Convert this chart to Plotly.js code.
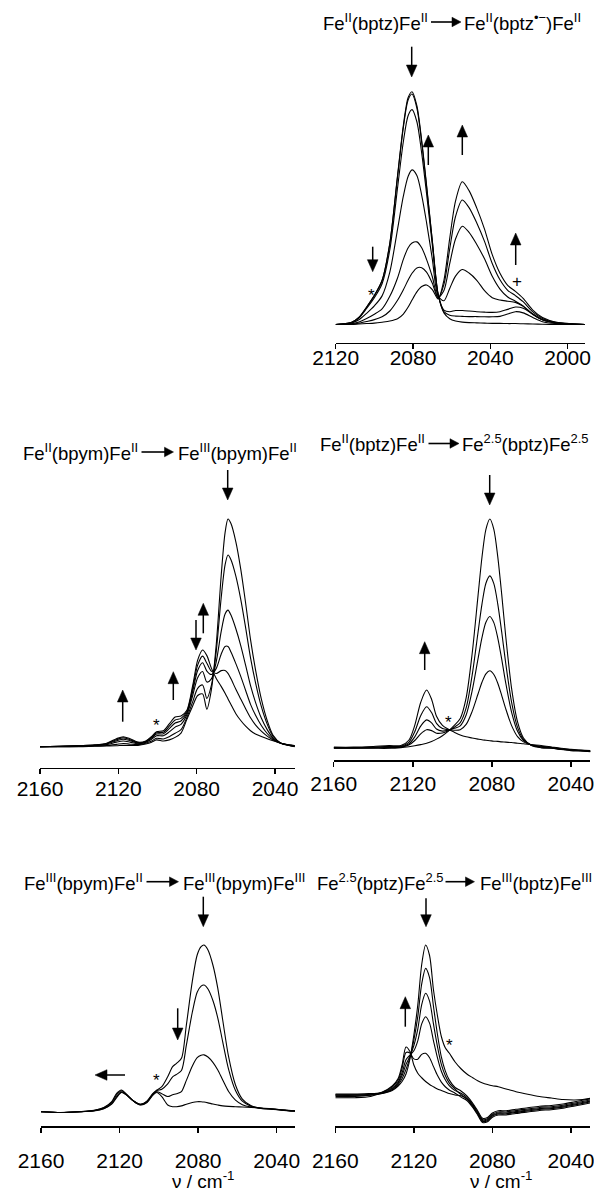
<!DOCTYPE html>
<html>
<head>
<meta charset="utf-8">
<script src="https://cdn.plot.ly/plotly-3.0.1.min.js"></script>
<style>
html,body{margin:0;padding:0;background:#fff;}
#chart{width:594px;height:1191px;}
</style>
</head>
<body>
<div id="chart"></div>
<script>
// ---------------- DATA (wavenumber in cm-1, absorbance in arbitrary units) ----------------
// Panel 1: Fe(II)(bptz)Fe(II) -> Fe(II)(bptz radical anion)Fe(II)
const P1_WN = [2120, 2112, 2108, 2104, 2100, 2096, 2092, 2088, 2085, 2082.5, 2080.5, 2078, 2075.5, 2073, 2070, 2067, 2064, 2061, 2058, 2054.5, 2051, 2047, 2043, 2039, 2035, 2031, 2027, 2023, 2018, 2013, 2006, 1998, 1991];
const P1_S1 = [0, 0.008, 0.03, 0.075, 0.125, 0.19, 0.35, 0.64, 0.855, 0.975, 1.0, 0.94, 0.79, 0.6, 0.36, 0.13, 0.05, 0.025, 0.015, 0.01, 0.008, 0.007, 0.006, 0.005, 0.005, 0.004, 0.004, 0.003, 0.002, 0.001, 0, 0, 0];
const P1_S2 = [0, 0.008, 0.03, 0.074, 0.124, 0.188, 0.347, 0.634, 0.846, 0.965, 0.99, 0.93, 0.782, 0.594, 0.357, 0.13, 0.055, 0.04, 0.036, 0.035, 0.034, 0.034, 0.033, 0.033, 0.035, 0.045, 0.055, 0.05, 0.03, 0.012, 0.004, 0.001, 0];
const P1_S3 = [0, 0.007, 0.027, 0.069, 0.115, 0.175, 0.321, 0.587, 0.785, 0.898, 0.923, 0.871, 0.736, 0.563, 0.342, 0.128, 0.062, 0.055, 0.06, 0.06, 0.058, 0.055, 0.053, 0.052, 0.055, 0.065, 0.075, 0.07, 0.045, 0.02, 0.006, 0.002, 0];
const P1_S4 = [0, 0.005, 0.02, 0.048, 0.08, 0.123, 0.225, 0.409, 0.551, 0.637, 0.664, 0.64, 0.555, 0.439, 0.281, 0.122, 0.102, 0.155, 0.208, 0.236, 0.221, 0.19, 0.145, 0.115, 0.105, 0.1, 0.095, 0.078, 0.045, 0.02, 0.006, 0.002, 0];
const P1_S5 = [0, 0.003, 0.011, 0.026, 0.044, 0.067, 0.121, 0.2, 0.28, 0.33, 0.35, 0.355, 0.33, 0.28, 0.205, 0.116, 0.146, 0.261, 0.367, 0.422, 0.396, 0.344, 0.282, 0.207, 0.152, 0.118, 0.1, 0.08, 0.043, 0.02, 0.007, 0.002, 0];
const P1_S6 = [0, 0.001, 0.006, 0.013, 0.021, 0.033, 0.058, 0.104, 0.149, 0.191, 0.22, 0.243, 0.244, 0.225, 0.177, 0.113, 0.172, 0.325, 0.464, 0.535, 0.502, 0.436, 0.357, 0.262, 0.192, 0.147, 0.124, 0.098, 0.054, 0.026, 0.009, 0.003, 0];
const P1_S7 = [0, 0, 0.002, 0.004, 0.006, 0.01, 0.015, 0.025, 0.045, 0.075, 0.105, 0.14, 0.163, 0.17, 0.15, 0.11, 0.19, 0.37, 0.53, 0.613, 0.575, 0.5, 0.41, 0.3, 0.22, 0.168, 0.142, 0.112, 0.062, 0.03, 0.01, 0.003, 0];

// Panel 2: Fe(II)(bpym)Fe(II) -> Fe(III)(bpym)Fe(II)
const P2_WN = [2160, 2150, 2140, 2132, 2126, 2121, 2117.5, 2114, 2110, 2106, 2103, 2100.5, 2097, 2094, 2091, 2088, 2085, 2082, 2079.5, 2077, 2074.8, 2072.5, 2070, 2067.5, 2065.5, 2064, 2062.5, 2060, 2057.5, 2055, 2052.5, 2050, 2047, 2044, 2041, 2037, 2033, 2030];
const P2_S1 = [0, 0, 0, 0.002, 0.003, 0.004, 0.006, 0.005, 0.006, 0.012, 0.02, 0.03, 0.025, 0.03, 0.041, 0.06, 0.12, 0.18, 0.225, 0.232, 0.165, 0.25, 0.45, 0.75, 0.94, 1.0, 0.98, 0.9, 0.78, 0.63, 0.47, 0.34, 0.21, 0.115, 0.05, 0.015, 0.005, 0];
const P2_S2 = [0, 0, 0.001, 0.003, 0.005, 0.01, 0.014, 0.011, 0.009, 0.015, 0.025, 0.037, 0.034, 0.044, 0.059, 0.075, 0.128, 0.198, 0.256, 0.271, 0.212, 0.269, 0.42, 0.653, 0.799, 0.842, 0.821, 0.749, 0.647, 0.522, 0.39, 0.283, 0.177, 0.099, 0.045, 0.015, 0.006, 0.001];
const P2_S3 = [0, 0.001, 0.0025, 0.005, 0.009, 0.02, 0.025, 0.02, 0.013, 0.019, 0.033, 0.048, 0.048, 0.065, 0.086, 0.098, 0.14, 0.226, 0.303, 0.33, 0.284, 0.298, 0.374, 0.505, 0.583, 0.6, 0.578, 0.518, 0.444, 0.357, 0.268, 0.196, 0.126, 0.075, 0.038, 0.015, 0.0065, 0.0025];
const P2_S4 = [0, 0.0014, 0.0035, 0.0063, 0.0115, 0.026, 0.0329, 0.0263, 0.0159, 0.0212, 0.0377, 0.0555, 0.0569, 0.0796, 0.104, 0.113, 0.148, 0.244, 0.335, 0.369, 0.332, 0.317, 0.344, 0.406, 0.44, 0.44, 0.416, 0.365, 0.309, 0.247, 0.186, 0.139, 0.093, 0.058, 0.033, 0.015, 0.007, 0.0035];
const P2_S5 = [0, 0.0017, 0.0043, 0.0071, 0.0133, 0.0306, 0.0386, 0.0307, 0.018, 0.0232, 0.0414, 0.0609, 0.0636, 0.0901, 0.1174, 0.1243, 0.1543, 0.2572, 0.358, 0.3976, 0.3666, 0.3315, 0.3213, 0.334, 0.335, 0.322, 0.298, 0.252, 0.209, 0.167, 0.127, 0.096, 0.0684, 0.0464, 0.0294, 0.015, 0.0076, 0.0043];
const P2_S6 = [0, 0.002, 0.005, 0.008, 0.015, 0.035, 0.044, 0.035, 0.02, 0.025, 0.045, 0.066, 0.07, 0.1, 0.13, 0.135, 0.16, 0.27, 0.38, 0.425, 0.4, 0.345, 0.3, 0.265, 0.235, 0.21, 0.185, 0.145, 0.115, 0.09, 0.07, 0.056, 0.045, 0.035, 0.026, 0.015, 0.008, 0.005];

// Panel 3: Fe(II)(bptz)Fe(II) -> Fe(2.5)(bptz)Fe(2.5)
const P3_WN = [2160, 2150, 2140, 2132, 2126, 2122, 2119, 2116, 2113, 2110.5, 2108, 2105, 2102, 2099, 2096, 2093, 2090, 2087, 2085, 2083, 2081, 2079, 2077, 2075, 2073, 2070, 2067, 2064, 2060, 2055, 2050, 2045, 2040, 2035, 2030];
const P3_S1 = [0, 0, 0, 0, 0.003, 0.007, 0.011, 0.016, 0.022, 0.03, 0.04, 0.055, 0.075, 0.1, 0.13, 0.22, 0.41, 0.665, 0.833, 0.955, 1.0, 0.955, 0.835, 0.67, 0.49, 0.26, 0.115, 0.045, 0.012, 0.002, 0, -0.005, -0.01, -0.012, -0.015];
const P3_S2 = [0.001, 0.001, 0.002, 0.003, 0.005, 0.014, 0.034, 0.063, 0.081, 0.077, 0.066, 0.067, 0.077, 0.092, 0.112, 0.176, 0.317, 0.505, 0.629, 0.72, 0.752, 0.718, 0.629, 0.506, 0.372, 0.2, 0.091, 0.039, 0.013, 0.005, 0.0015, -0.004, -0.008, -0.011, -0.014];
const P3_S3 = [0.002, 0.002, 0.0035, 0.0053, 0.007, 0.019, 0.05, 0.097, 0.124, 0.111, 0.084, 0.075, 0.079, 0.087, 0.098, 0.145, 0.249, 0.39, 0.483, 0.55, 0.575, 0.548, 0.481, 0.388, 0.286, 0.157, 0.074, 0.034, 0.014, 0.006, 0.003, -0.003, -0.007, -0.01, -0.013];
const P3_S4 = [0.003, 0.003, 0.0055, 0.0082, 0.009, 0.026, 0.072, 0.142, 0.181, 0.156, 0.109, 0.086, 0.081, 0.079, 0.081, 0.104, 0.16, 0.237, 0.288, 0.325, 0.338, 0.322, 0.284, 0.23, 0.173, 0.099, 0.051, 0.028, 0.015, 0.009, 0.004, -0.002, -0.006, -0.009, -0.012];
const P3_S5 = [0.005, 0.005, 0.008, 0.012, 0.012, 0.035, 0.1, 0.2, 0.254, 0.214, 0.14, 0.1, 0.083, 0.07, 0.058, 0.05, 0.045, 0.04, 0.037, 0.035, 0.033, 0.031, 0.03, 0.028, 0.027, 0.025, 0.022, 0.02, 0.016, 0.012, 0.006, 0, -0.004, -0.008, -0.01];

// Panel 4: Fe(III)(bpym)Fe(II) -> Fe(III)(bpym)Fe(III)
const P4_WN = [2160, 2150, 2140, 2133, 2128, 2124, 2121.5, 2119, 2116.5, 2113, 2109.5, 2106, 2103, 2101, 2098.5, 2095.5, 2093, 2091, 2088.5, 2086, 2083, 2080.5, 2078.5, 2077, 2075, 2072.5, 2070, 2067.5, 2064.5, 2061, 2057.5, 2053, 2048, 2043, 2038, 2034, 2030];
const P4_S1 = [0, -0.005, 0, 0.005, 0.018, 0.045, 0.085, 0.115, 0.1, 0.065, 0.045, 0.065, 0.11, 0.13, 0.15, 0.21, 0.27, 0.29, 0.32, 0.52, 0.78, 0.94, 0.99, 1.0, 0.97, 0.88, 0.74, 0.55, 0.33, 0.16, 0.075, 0.035, 0.02, 0.015, 0.01, 0.005, 0.003];
const P4_S2 = [0, -0.005, 0, 0.006, 0.02, 0.049, 0.091, 0.119, 0.101, 0.065, 0.044, 0.062, 0.107, 0.126, 0.135, 0.167, 0.209, 0.224, 0.247, 0.399, 0.595, 0.716, 0.753, 0.76, 0.736, 0.667, 0.562, 0.419, 0.254, 0.127, 0.063, 0.032, 0.02, 0.016, 0.011, 0.006, 0.004];
const P4_S3 = [0, -0.005, 0, 0.007, 0.023, 0.056, 0.103, 0.126, 0.104, 0.065, 0.042, 0.058, 0.103, 0.12, 0.108, 0.091, 0.102, 0.108, 0.121, 0.188, 0.273, 0.324, 0.339, 0.341, 0.328, 0.296, 0.25, 0.19, 0.121, 0.069, 0.042, 0.028, 0.021, 0.017, 0.011, 0.007, 0.004];
const P4_S4 = [0, -0.005, 0, 0.008, 0.025, 0.06, 0.11, 0.13, 0.105, 0.065, 0.04, 0.055, 0.1, 0.115, 0.09, 0.04, 0.03, 0.03, 0.035, 0.045, 0.055, 0.06, 0.06, 0.058, 0.053, 0.046, 0.04, 0.035, 0.032, 0.03, 0.028, 0.025, 0.022, 0.018, 0.012, 0.008, 0.005];

// Panel 5: Fe(2.5)(bptz)Fe(2.5) -> Fe(III)(bptz)Fe(III)
const P5_WN = [2160, 2150, 2142, 2136, 2131, 2128, 2126, 2124, 2122, 2120, 2118, 2116, 2114, 2112, 2110, 2108, 2106, 2104, 2102, 2099, 2096, 2093, 2090, 2087.5, 2085, 2082.5, 2080, 2077, 2073, 2068, 2062, 2056, 2050, 2044, 2038, 2034, 2030];
const P5_S1 = [0, 0, 0, 0.01, 0.03, 0.06, 0.09, 0.14, 0.24, 0.4, 0.6, 0.87, 1.0, 0.93, 0.7, 0.53, 0.39, 0.315, 0.28, 0.22, 0.175, 0.14, 0.115, 0.095, 0.08, 0.07, 0.062, 0.055, 0.04, 0.022, 0.005, -0.01, -0.02, -0.03, -0.033, -0.03, -0.022];
const P5_S2 = [-0.002, -0.002, 0, 0.012, 0.035, 0.069, 0.109, 0.171, 0.249, 0.366, 0.522, 0.741, 0.844, 0.783, 0.59, 0.405, 0.254, 0.161, 0.101, 0.05, 0.027, -0.006, -0.055, -0.105, -0.155, -0.15, -0.12, -0.105, -0.105, -0.095, -0.085, -0.075, -0.07, -0.06, -0.045, -0.035, -0.025];
const P5_S3 = [0.006, 0.006, 0.01, 0.014, 0.041, 0.078, 0.129, 0.204, 0.258, 0.329, 0.439, 0.603, 0.678, 0.626, 0.472, 0.324, 0.204, 0.13, 0.081, 0.039, 0.002, -0.028, -0.076, -0.126, -0.176, -0.171, -0.141, -0.126, -0.126, -0.116, -0.106, -0.096, -0.091, -0.081, -0.066, -0.056, -0.046];
const P5_S4 = [0, 0, 0.005, 0.015, 0.046, 0.086, 0.148, 0.235, 0.266, 0.295, 0.361, 0.474, 0.522, 0.479, 0.361, 0.249, 0.158, 0.101, 0.062, 0.029, 0.012, -0.016, -0.063, -0.113, -0.163, -0.158, -0.128, -0.113, -0.113, -0.103, -0.093, -0.083, -0.078, -0.068, -0.053, -0.043, -0.033];
const P5_S5 = [-0.018, -0.018, -0.01, 0.018, 0.054, 0.1, 0.177, 0.283, 0.28, 0.241, 0.239, 0.271, 0.278, 0.248, 0.189, 0.131, 0.086, 0.055, 0.033, 0.012, -0.014, -0.037, -0.083, -0.133, -0.183, -0.178, -0.148, -0.133, -0.133, -0.123, -0.113, -0.103, -0.098, -0.088, -0.073, -0.063, -0.053];
const P5_S6 = [-0.01, -0.01, 0, 0.02, 0.06, 0.11, 0.2, 0.32, 0.29, 0.2, 0.145, 0.115, 0.09, 0.07, 0.055, 0.04, 0.03, 0.02, 0.01, 0, -0.005, -0.025, -0.07, -0.12, -0.17, -0.165, -0.135, -0.12, -0.12, -0.11, -0.1, -0.09, -0.085, -0.075, -0.06, -0.05, -0.04];

// Tick labels
const TICKS_TOP = [2120, 2080, 2040, 2000];
const TICKS_STD = [2160, 2120, 2080, 2040];

// Titles (left part, right part)
const TITLES = [
  ['Fe<sup>II</sup>(bptz)Fe<sup>II</sup>', 'Fe<sup>II</sup>(bptz<sup>\u2022\u2212</sup>)Fe<sup>II</sup>'],
  ['Fe<sup>II</sup>(bpym)Fe<sup>II</sup>', 'Fe<sup>III</sup>(bpym)Fe<sup>II</sup>'],
  ['Fe<sup>II</sup>(bptz)Fe<sup>II</sup>', 'Fe<sup>2.5</sup>(bptz)Fe<sup>2.5</sup>'],
  ['Fe<sup>III</sup>(bpym)Fe<sup>II</sup>', 'Fe<sup>III</sup>(bpym)Fe<sup>III</sup>'],
  ['Fe<sup>2.5</sup>(bptz)Fe<sup>2.5</sup>', 'Fe<sup>III</sup>(bptz)Fe<sup>III</sup>']
];
const XTITLE = '\u03bd / cm<sup>-1</sup>';

// ---------------- LAYOUT HELPERS ----------------
const W = 594, H = 1191;
const FONT = 'Liberation Sans, Arial, Helvetica, sans-serif';
const fx = p => p / W;
const fy = p => 1 - p / H;

function yax(axPx, zeroPx, onePx, topPx) {
  const s = zeroPx - onePx;
  return {domain: [fy(axPx), fy(topPx)], range: [-(axPx - zeroPx) / s, (zeroPx - topPx) / s],
          visible: false, fixedrange: true, showgrid: false, zeroline: false};
}
function xax(x0, x1, r0, r1, tv, anchor, standoff) {
  return {domain: [fx(x0), fx(x1)], range: [r0, r1], autorange: false, anchor: anchor,
    tickmode: 'array', tickvals: tv, ticktext: tv.map(String),
    ticks: 'outside', ticklen: 5, tickwidth: 1.5, tickcolor: '#000',
    showline: true, linewidth: 1.6, linecolor: '#000', ticklabelstandoff: standoff,
    ticklabeloverflow: 'allow',
    showgrid: false, zeroline: false, fixedrange: true,
    tickfont: {family: FONT, size: 21, color: '#000'}};
}

const panels = [
  {wn: P1_WN, series: [P1_S1, P1_S2, P1_S3, P1_S4, P1_S5, P1_S6, P1_S7], xa: 'x', ya: 'y'},
  {wn: P2_WN, series: [P2_S1, P2_S2, P2_S3, P2_S4, P2_S5, P2_S6], xa: 'x2', ya: 'y2'},
  {wn: P3_WN, series: [P3_S1, P3_S2, P3_S3, P3_S4, P3_S5], xa: 'x3', ya: 'y3'},
  {wn: P4_WN, series: [P4_S1, P4_S2, P4_S3, P4_S4], xa: 'x4', ya: 'y4'},
  {wn: P5_WN, series: [P5_S1, P5_S2, P5_S3, P5_S4, P5_S5, P5_S6], xa: 'x5', ya: 'y5'}
];

const traces = [];
panels.forEach(p => {
  p.series.forEach(s => {
    traces.push({x: p.wn, y: s, xaxis: p.xa, yaxis: p.ya, type: 'scatter', mode: 'lines',
      line: {color: '#000', width: 1.1, shape: 'spline', smoothing: 0.8}, hoverinfo: 'skip'});
  });
});

function txt(x, y, text, xanchor, size) {
  return {xref: 'paper', yref: 'paper', x: fx(x), y: fy(y), text: text, showarrow: false,
    xanchor: xanchor, yanchor: 'middle', borderpad: 0,
    font: {family: FONT, size: size || 18.5, color: '#000'}};
}

const shapes = [];
// arrow = shaft line + filled triangular head, all in page-pixel geometry
function arrowShapes(tx, ty, hx, hy, L, hw, lw) {
  const dx = hx - tx, dy = hy - ty, len = Math.hypot(dx, dy);
  const ux = dx / len, uy = dy / len, px = -uy, py = ux;
  const bx = hx - ux * L, by = hy - uy * L;
  shapes.push({type: 'line', xref: 'paper', yref: 'paper', x0: fx(tx), y0: fy(ty),
    x1: fx(bx + ux * 1.5), y1: fy(by + uy * 1.5), line: {color: '#000', width: lw}});
  shapes.push({type: 'path', xref: 'paper', yref: 'paper',
    path: 'M ' + fx(hx) + ' ' + fy(hy) + ' L ' + fx(bx + px * hw) + ' ' + fy(by + py * hw) +
          ' L ' + fx(bx - px * hw) + ' ' + fy(by - py * hw) + ' Z',
    fillcolor: '#000', line: {color: '#000', width: 0.5}});
}

// title geometry: [cap-centre y, left text right edge, arrow tail x, arrow head x, right text left edge]
const TITLE_POS = [
  [22, 428.5, 431, 461, 463],
  [452, 138.5, 141.5, 173.5, 176.5],
  [443.5, 425.5, 428.5, 459, 460.5],
  [881.7, 143.5, 146.5, 178.5, 181.5],
  [881.7, 443.5, 445.5, 474.5, 478.5]
];

const annotations = [];
TITLES.forEach((t, i) => {
  const g = TITLE_POS[i];
  annotations.push(txt(g[1], g[0], t[0], 'right'));
  arrowShapes(g[2], g[0], g[3], g[0], 9, 4.8, 1.6);
  annotations.push(txt(g[4], g[0], t[1], 'left'));
});

// trend arrows inside panels (tail x,y -> head x,y in page pixels)
const ARROWS = [
  [411.7, 46.7, 411.7, 77], [428.3, 165, 428.3, 135], [462.3, 155, 462.3, 125],
  [515.7, 265, 515.7, 233], [372.7, 246.7, 372.7, 271.7],
  [227.7, 470, 227.7, 500], [196, 620, 196, 650], [203.3, 633.3, 203.3, 603.3],
  [173.3, 700, 173.3, 671.7], [122.7, 721.7, 122.7, 690],
  [489.7, 475, 489.7, 505], [424.7, 670, 424.7, 641.7],
  [203.3, 896.7, 203.3, 926.7], [177.7, 1008.3, 177.7, 1040], [125, 1075, 95, 1075],
  [426, 898.3, 426, 926.7], [405.3, 1026.7, 405.3, 996.7]
];
ARROWS.forEach(a => arrowShapes(a[0], a[1], a[2], a[3], 12, 5.3, 1.5));

// marks
const MARKS = [
  [371.7, 296, '*'], [516.7, 282, '+'], [156.7, 725, '*'], [448.7, 722, '*'],
  [156.7, 1080, '*'], [449.3, 1045, '*']
];
MARKS.forEach(m => annotations.push(txt(m[0], m[1], m[2], 'center', 17)));

annotations.push(txt(203, 1180, XTITLE, 'center', 19));
annotations.push(txt(501, 1180, XTITLE, 'center', 19));

const layout = {
  width: W, height: H, margin: {l: 0, r: 0, t: 0, b: 0},
  paper_bgcolor: '#fff', plot_bgcolor: 'rgba(0,0,0,0)', showlegend: false,
  font: {family: FONT, color: '#000'},
  xaxis: xax(335.7, 585, 2120, 1991, TICKS_TOP, 'y', -10),
  yaxis: yax(342.7, 324.5, 91.7, 60),
  xaxis2: xax(40, 295, 2160, 2029.8, TICKS_STD, 'y2', -4),
  yaxis2: yax(767.7, 746.7, 519, 480),
  xaxis3: xax(333.7, 590.3, 2160, 2030.2, TICKS_STD, 'y3', -1),
  yaxis3: yax(760, 748.3, 519, 480),
  xaxis4: xax(41, 295, 2160, 2030.7, TICKS_STD, 'y4', 10),
  yaxis4: yax(1126, 1111.7, 945, 900),
  xaxis5: xax(335.3, 590, 2160, 2030.3, TICKS_STD, 'y5', 10),
  yaxis5: yax(1126, 1095, 945, 900),
  annotations: annotations,
  shapes: shapes
};

Plotly.newPlot('chart', traces, layout, {staticPlot: true, displayModeBar: false});
</script>
</body>
</html>
